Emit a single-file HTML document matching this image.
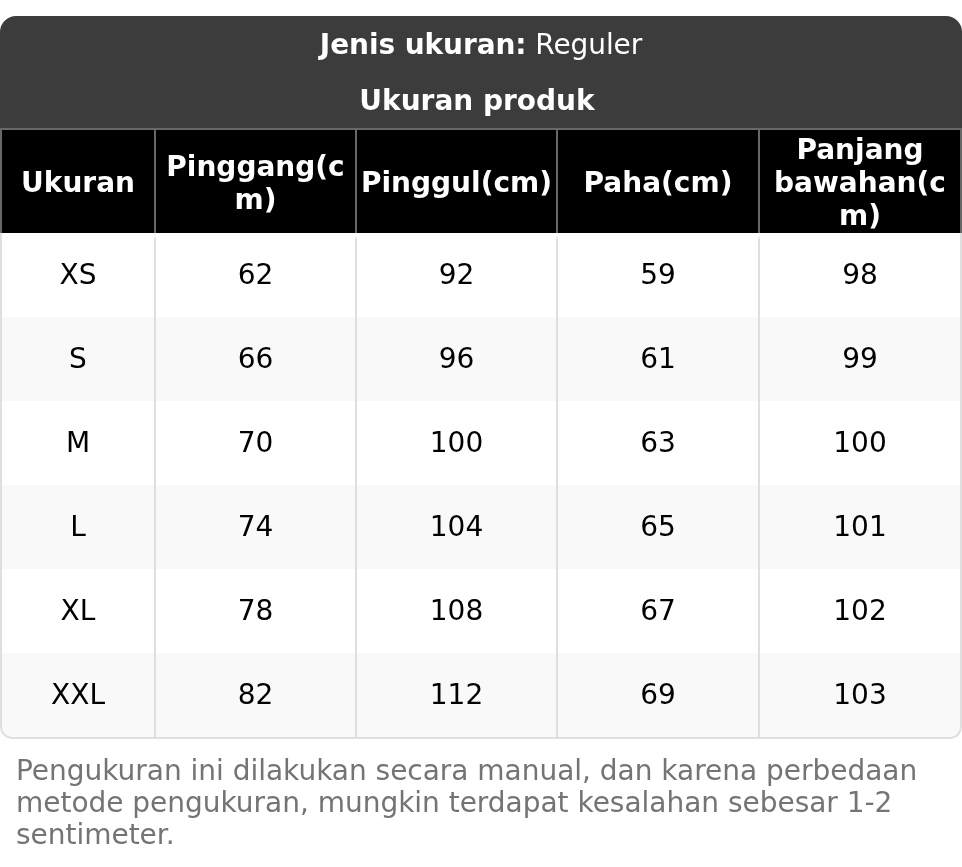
<!DOCTYPE html>
<html lang="id">
<head>
<meta charset="utf-8">
<title>Ukuran produk</title>
<style>
  html,body{margin:0;padding:0;background:#fff;}
  body{position:relative;width:962px;height:867px;overflow:hidden;font-family:"DejaVu Sans","Liberation Sans",sans-serif;color:#000;font-size:28px;}
  .card{position:absolute;left:0;top:16px;width:962px;height:723px;border-radius:16px 16px 12px 12px;overflow:hidden;background:#fff;}
  .top{position:absolute;left:0;top:0;width:962px;height:112px;background:#3c3c3c;color:#fff;text-align:center;}
  .top div{position:absolute;left:0;width:962px;line-height:34px;white-space:nowrap;}
  .top .l1{top:12px;letter-spacing:-0.08px;}
  .top .l2{top:68px;left:-4px;font-weight:bold;}
  .hrow{position:absolute;left:0;top:112px;width:962px;height:105px;background:#000;box-sizing:border-box;border:2px solid #676767;border-bottom:none;}
  .hsep{position:absolute;top:114px;width:2px;height:103px;background:#676767;}
  .th{position:absolute;top:115px;height:103px;display:flex;align-items:center;justify-content:center;text-align:center;color:#fff;font-weight:bold;line-height:33px;}
  .row{position:absolute;left:0;width:962px;height:84px;background:#fff;}
  .row.alt{background:#f9f9f9;}
  .td{position:absolute;top:0;height:84px;line-height:84px;text-align:center;}
  .bsep{position:absolute;top:217px;width:2px;height:506px;background:linear-gradient(rgba(223,223,223,0) 0,rgba(223,223,223,.35) 4px,#dfdfdf 7px);}
  .frame{position:absolute;left:0;top:200px;width:962px;height:523px;box-sizing:border-box;border:2px solid #dfdfdf;border-top:none;border-radius:0 0 12px 12px;clip-path:inset(17px 0 0 0);}
  .note{position:absolute;left:16px;top:755px;width:940px;font-size:28px;line-height:32px;color:#747477;letter-spacing:-0.022px;}
</style>
</head>
<body>
<div class="card">
  <div class="top">
    <div class="l1"><b>Jenis ukuran:</b> Reguler</div>
    <div class="l2">Ukuran produk</div>
  </div>
  <div class="hrow"></div>
  <div class="hsep" style="left:154px"></div>
  <div class="hsep" style="left:355px"></div>
  <div class="hsep" style="left:556px"></div>
  <div class="hsep" style="left:758px"></div>
  <div class="th" style="left:2px;width:152px"><span>Ukuran</span></div>
  <div class="th" style="left:156px;width:199px"><span>Pinggang(c<br>m)</span></div>
  <div class="th" style="left:357px;width:199px"><span>Pinggul(cm)</span></div>
  <div class="th" style="left:558px;width:200px"><span>Paha(cm)</span></div>
  <div class="th" style="left:760px;width:200px"><span>Panjang<br>bawahan(c<br>m)</span></div>
  <div class="row" style="top:217px">
    <div class="td" style="left:2px;width:152px">XS</div>
    <div class="td" style="left:156px;width:199px">62</div>
    <div class="td" style="left:357px;width:199px">92</div>
    <div class="td" style="left:558px;width:200px">59</div>
    <div class="td" style="left:760px;width:200px">98</div>
  </div>
  <div class="row alt" style="top:301px">
    <div class="td" style="left:2px;width:152px">S</div>
    <div class="td" style="left:156px;width:199px">66</div>
    <div class="td" style="left:357px;width:199px">96</div>
    <div class="td" style="left:558px;width:200px">61</div>
    <div class="td" style="left:760px;width:200px">99</div>
  </div>
  <div class="row" style="top:385px">
    <div class="td" style="left:2px;width:152px">M</div>
    <div class="td" style="left:156px;width:199px">70</div>
    <div class="td" style="left:357px;width:199px">100</div>
    <div class="td" style="left:558px;width:200px">63</div>
    <div class="td" style="left:760px;width:200px">100</div>
  </div>
  <div class="row alt" style="top:469px">
    <div class="td" style="left:2px;width:152px">L</div>
    <div class="td" style="left:156px;width:199px">74</div>
    <div class="td" style="left:357px;width:199px">104</div>
    <div class="td" style="left:558px;width:200px">65</div>
    <div class="td" style="left:760px;width:200px">101</div>
  </div>
  <div class="row" style="top:553px">
    <div class="td" style="left:2px;width:152px">XL</div>
    <div class="td" style="left:156px;width:199px">78</div>
    <div class="td" style="left:357px;width:199px">108</div>
    <div class="td" style="left:558px;width:200px">67</div>
    <div class="td" style="left:760px;width:200px">102</div>
  </div>
  <div class="row alt" style="top:637px">
    <div class="td" style="left:2px;width:152px">XXL</div>
    <div class="td" style="left:156px;width:199px">82</div>
    <div class="td" style="left:357px;width:199px">112</div>
    <div class="td" style="left:558px;width:200px">69</div>
    <div class="td" style="left:760px;width:200px">103</div>
  </div>
  <div class="bsep" style="left:154px"></div>
  <div class="bsep" style="left:355px"></div>
  <div class="bsep" style="left:556px"></div>
  <div class="bsep" style="left:758px"></div>
  <div class="frame"></div>
</div>
<div class="note">Pengukuran ini dilakukan secara manual, dan karena perbedaan metode pengukuran, mungkin terdapat kesalahan sebesar 1-2 sentimeter.</div>
</body>
</html>
